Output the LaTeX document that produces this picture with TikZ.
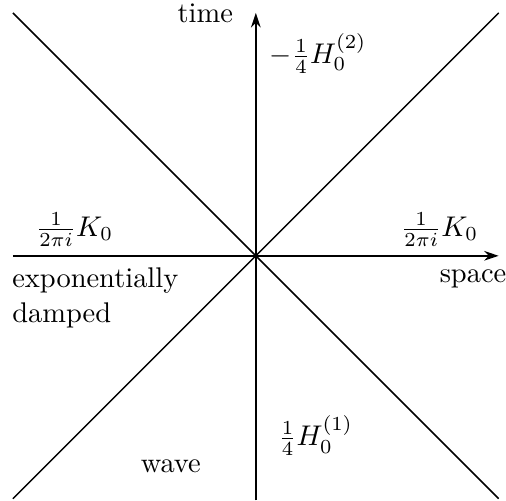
\documentclass[tikz,border=0pt]{standalone}
\usepackage{amsmath}
\usepackage{tikz}
\usetikzlibrary{arrows.meta,positioning}

\begin{document}
\begin{tikzpicture}[
    axis/.style={-{Stealth[length=1.8mm,width=1.2mm]}, line width=0.5pt},
    cone/.style={line width=0.5pt},
    lbl/.style={inner sep=1pt, font=\normalsize}
  ]
    \useasboundingbox (-3.16,-3.02) rectangle (3.09,3.16);
    % axes
    \coordinate (o) at (0,0);
    \coordinate (xl) at (-3,0);
    \coordinate (xr) at (3,0);
    \coordinate (yb) at (0,-3.02);
    \coordinate (yt) at (0,3);
    \draw[axis] (xl) -- (xr);
    \draw[axis] (yb) -- (yt);
    % light cone
    \coordinate (nw) at (-3,3);
    \coordinate (ne) at (3,3);
    \coordinate (sw) at (-3,-3);
    \coordinate (se) at (3,-3);
    \draw[cone] (nw) -- (se);
    \draw[cone] (sw) -- (ne);
    % labels
    \node[lbl, anchor=east] (time) at (-0.24,3.0) {time};
    \node[lbl, anchor=north west] (space) at (2.23,-0.13) {space};
    \node[lbl] (htwo) at (0.77,2.5) {$-\frac{1}{4}H_0^{(2)}$};
    \node[lbl] (hone) at (0.74,-2.22) {$\frac{1}{4}H_0^{(1)}$};
    \node[lbl] (kleft) at (-2.24,0.33) {$\frac{1}{2\pi i}K_0$};
    \node[lbl] (kright) at (2.27,0.33) {$\frac{1}{2\pi i}K_0$};
    \node[lbl, anchor=west, align=left] (damp) at (-3.05,-0.52) {exponentially\\damped};
    \node[lbl] (wave) at (-1.05,-2.6) {wave};
  \end{tikzpicture}
\end{document}
